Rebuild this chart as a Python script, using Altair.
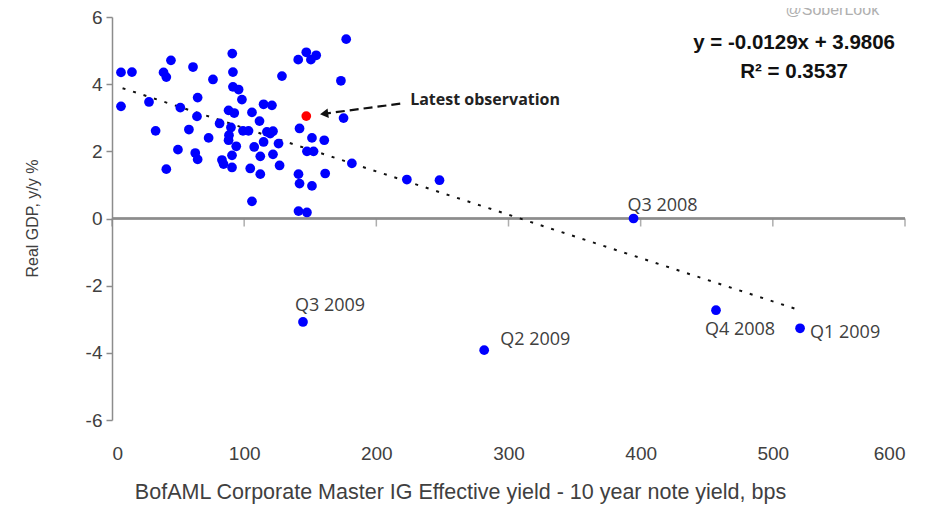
import altair as alt
import pandas as pd

# Scatter data: spread (bps) vs real GDP growth (y/y %)
spread_bps = [6.8, 15.1, 44.6, 39.0, 41.1, 61.3, 91.0, 91.5, 76.4, 128.6,
              140.9, 147.0, 150.5, 154.5, 177.2, 173.2, 6.8, 28.0, 51.7, 64.8,
              64.3, 91.5, 95.8, 98.3, 88.2, 92.5, 105.9, 114.7, 121.0, 111.6,
              175.2, 33.0, 58.2, 81.4, 73.1, 88.5, 90.0, 99.1, 103.3, 117.2,
              121.8, 114.7, 126.0, 141.9, 151.3, 160.6, 49.9, 63.0, 64.8, 88.2,
              94.0, 90.8, 83.2, 84.4, 107.6, 112.2, 121.8, 147.5, 152.5, 181.5,
              41.1, 90.8, 104.6, 112.2, 126.8, 141.1, 141.9, 151.3, 161.3, 105.9,
              141.1, 147.5, 223.1, 247.8, 119.7,
              394.6, 457.0, 520.6, 281.6, 144.5]
gdp_yy = [4.35, 4.36, 4.71, 4.35, 4.21, 4.51, 4.91, 4.36, 4.14, 4.24,
          4.73, 4.95, 4.73, 4.86, 5.34, 4.10, 3.34, 3.47, 3.30, 3.60,
          3.04, 3.92, 3.84, 3.54, 3.22, 3.14, 3.16, 3.40, 3.37, 2.90,
          2.99, 2.61, 2.65, 2.83, 2.40, 2.48, 2.71, 2.61, 2.61, 2.58,
          2.60, 2.28, 2.23, 2.68, 2.40, 2.33, 2.05, 1.95, 1.76, 2.33,
          2.15, 1.88, 1.74, 1.62, 2.13, 1.85, 1.91, 2.00, 2.00, 1.64,
          1.47, 1.52, 1.49, 1.32, 1.58, 1.32, 1.04, 0.97, 1.34, 0.51,
          0.22, 0.18, 1.16, 1.14, 2.53,
          0.00, -2.73, -3.27, -3.92, -3.08]

latest_x = [147.0]
latest_y = [3.05]

q_labels = ["Q3 2008", "Q4 2008", "Q1 2009", "Q2 2009", "Q3 2009"]
q_x = [394.6, 457.0, 520.6, 281.6, 144.5]
q_y = [0.00, -2.73, -3.27, -3.92, -3.08]

trend_x = [8.0, 518.0]
trend_y = [3.88, -2.70]

x_ticks = [0, 100, 200, 300, 400, 500, 600]
y_ticks = [-6, -4, -2, 0, 2, 4, 6]

FONT = "Liberation Sans"
TXT = "#404040"
AX = "#8c8c8c"

pts = pd.DataFrame({"x": spread_bps, "y": gdp_yy})
red = pd.DataFrame({"x": latest_x, "y": latest_y})
qdf = pd.DataFrame({"x": q_x, "y": q_y, "label": q_labels})
trend = pd.DataFrame({"x": trend_x, "y": trend_y})
ticks = pd.DataFrame({"x": x_ticks})

xscale = alt.Scale(domain=[0, 600], nice=False, zero=False)
yscale = alt.Scale(domain=[-6, 6], nice=False, zero=False)

xaxis = alt.Axis(values=x_ticks, domain=False, ticks=False, grid=False,
                 labelFont=FONT, labelFontSize=19, labelColor=TXT, labelPadding=24,
                 title="BofAML Corporate Master IG Effective yield - 10 year note yield, bps",
                 titleFont=FONT, titleFontSize=21.5, titleFontWeight="normal", titleColor=TXT,
                 titleY=72, titleBaseline="middle", titleX=348)
yaxis = alt.Axis(values=y_ticks, grid=False, domainColor=AX, domainWidth=1.5,
                 tickColor=AX, tickWidth=1.5, tickSize=6,
                 labelExpr="datum.value + ''",
                 labelFont=FONT, labelFontSize=19, labelColor=TXT, labelPadding=4,
                 title="Real GDP, y/y %", titleFont=FONT, titleFontSize=16,
                 titleFontWeight="normal", titleColor=TXT,
                 titleX=-80, titleY=201, titleAngle=-90, titleBaseline="middle")

base_x = alt.X("x:Q", scale=xscale, axis=xaxis)
base_y = alt.Y("y:Q", scale=yscale, axis=yaxis)

# horizontal axis line at y = 0 with ticks below
zero_line = alt.Chart(ticks).mark_rule(color=AX, strokeWidth=1.5).encode(
    x=alt.datum(0, scale=xscale), x2=alt.datum(600), y=alt.datum(0, scale=yscale)
)
zero_ticks = alt.Chart(ticks).mark_tick(color=AX, orient="vertical", size=8,
                                        thickness=1.5, yOffset=4).encode(
    x=alt.X("x:Q", scale=xscale), y=alt.datum(0, scale=yscale)
)

trend_line = alt.Chart(trend).mark_line(color="#111111", strokeWidth=2,
                                        strokeDash=[3, 8]).encode(
    x=base_x, y=base_y
)

dots = alt.Chart(pts).mark_circle(size=95, color="#0000ff", opacity=1).encode(
    x=base_x, y=base_y
)
red_dot = alt.Chart(red).mark_circle(size=95, color="#ff0000", opacity=1).encode(
    x="x:Q", y="y:Q"
)

def qlabel(name, dx, dy, align):
    return alt.Chart(qdf).transform_filter(alt.datum.label == name).mark_text(
        font="Open Sans", fontSize=18, color=TXT, align=align, baseline="middle",
        dx=dx, dy=dy
    ).encode(x="x:Q", y="y:Q", text="label:N")

qlabels = (qlabel("Q3 2008", -6, -13, "left") + qlabel("Q4 2008", 24, 20, "center")
           + qlabel("Q1 2009", 10, 5, "left") + qlabel("Q2 2009", 16, -10, "left")
           + qlabel("Q3 2009", -8, -16, "left"))

arrow_df = pd.DataFrame({"x": [218.1], "y": [3.42], "x2": [160.5], "y2": [3.12]})
arrow_line = alt.Chart(arrow_df).mark_rule(color="#111111", strokeWidth=2.2,
                                           strokeDash=[9, 5]).encode(
    x="x:Q", y="y:Q", x2="x2:Q", y2="y2:Q"
)
arrow_head = alt.Chart(arrow_df).mark_point(shape="triangle-left", filled=True,
                                            size=90, angle=352.5, color="#111111",
                                            opacity=1).encode(
    x="x2:Q", y="y2:Q"
)
annot_df = pd.DataFrame({"x": [225.6], "y": [3.52], "t": ["Latest observation"]})
annot = alt.Chart(annot_df).mark_text(font="Open Sans", fontWeight="bold", fontSize=16,
                                      color="#222222", align="left",
                                      baseline="middle").encode(
    x="x:Q", y="y:Q", text="t:N"
)

eq_df = pd.DataFrame({"x": [516.1, 516.1], "y": [5.23, 4.36],
                      "t": ["y = -0.0129x + 3.9806", "R² = 0.3537"]})
eq = alt.Chart(eq_df).mark_text(font=FONT, fontWeight="bold", fontSize=20.5,
                                color="#111111", align="center",
                                baseline="middle").encode(
    x="x:Q", y="y:Q", text="t:N"
)

src_df = pd.DataFrame({"x": [545.0], "y": [6.22], "t": ["@SoberLook"]})
src = alt.Chart(src_df).mark_text(font=FONT, fontSize=16, color="#b0b0b0",
                                  align="center", baseline="middle").encode(
    x="x:Q", y="y:Q", text="t:N"
)

chart = alt.layer(
    dots.mark_circle(opacity=0), zero_line, zero_ticks, trend_line, dots, red_dot,
    qlabels, arrow_line, arrow_head, annot, eq, src
).properties(
    width=793, height=403,
    autosize=alt.AutoSizeParams(type="none"),
    padding={"left": 104, "top": 9, "right": 14, "bottom": 84},
    background="white"
).configure_view(stroke=None)

chart.save("out.html", embed_options={"renderer": "svg", "actions": False})
